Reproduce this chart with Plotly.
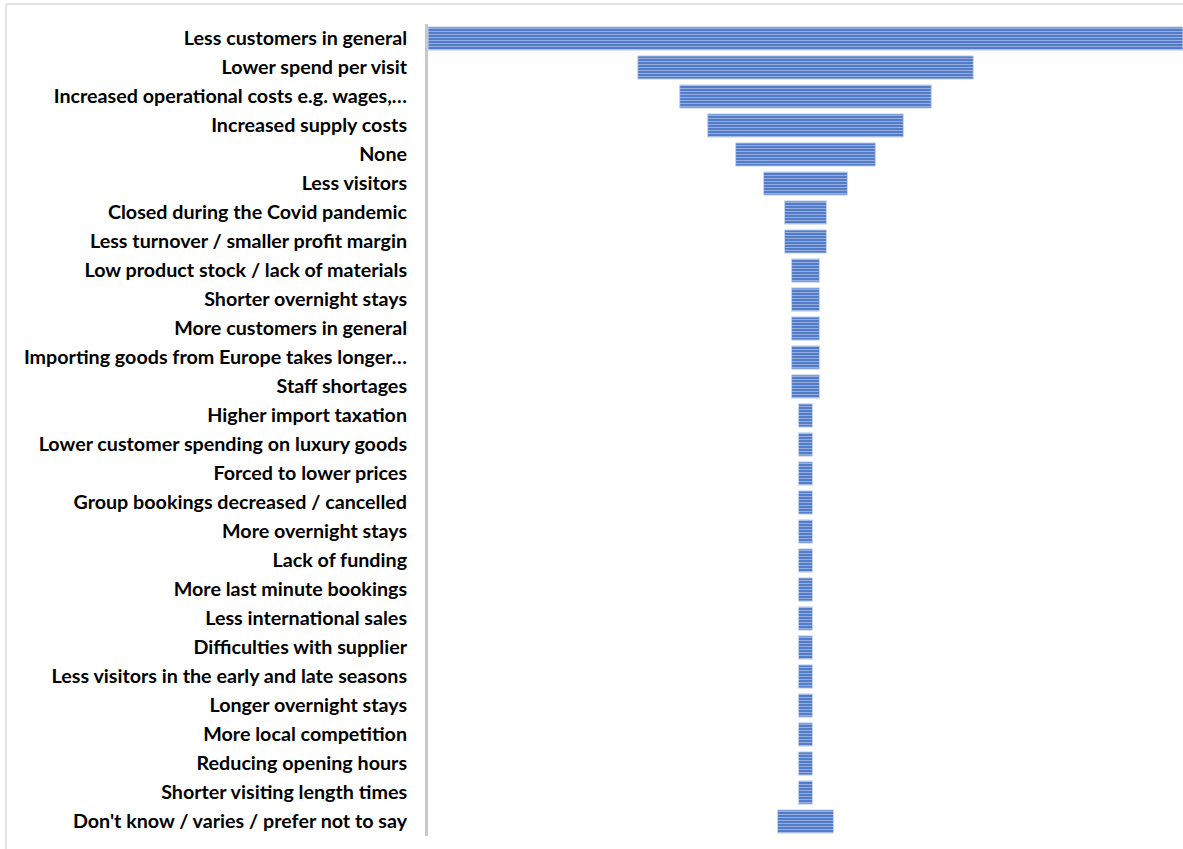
import plotly.graph_objects as go

# Reported business impacts (number of responses)
categories = [
    "Less customers in general",
    "Lower spend per visit",
    "Increased operational costs e.g. wages,…",
    "Increased supply costs",
    "None",
    "Less visitors",
    "Closed during the Covid pandemic",
    "Less turnover / smaller profit margin",
    "Low product stock / lack of materials",
    "Shorter overnight stays",
    "More customers in general",
    "Importing goods from Europe takes longer…",
    "Staff shortages",
    "Higher import taxation",
    "Lower customer spending on luxury goods",
    "Forced to lower prices",
    "Group bookings decreased / cancelled",
    "More overnight stays",
    "Lack of funding",
    "More last minute bookings",
    "Less international sales",
    "Difficulties with supplier",
    "Less visitors in the early and late seasons",
    "Longer overnight stays",
    "More local competition",
    "Reducing opening hours",
    "Shorter visiting length times",
    "Don't know / varies / prefer not to say",
]
responses = [54, 24, 18, 14, 10, 6, 3, 3, 2, 2, 2, 2, 2,
             1, 1, 1, 1, 1, 1, 1, 1, 1, 1, 1, 1, 1, 1, 4]

max_val = max(responses)

W, H = 1183, 849
L, R, T, B = 428, 0, 24, 13
plot_w, plot_h = W - L - R, H - T - B

fig = go.Figure(
    go.Bar(
        y=categories,
        x=responses,
        base=[-v / 2 for v in responses],  # centre each bar for the funnel look
        orientation="h",
        marker=dict(
            color="#4472C4",
            line=dict(color="#C7D4EE", width=1),
            pattern=dict(shape="-", size=3, solidity=0.45,
                         fgcolor="#95AEDF", bgcolor="#4472C4",
                         fillmode="replace"),
        ),
        hoverinfo="y+x",
    )
)

frame_x = (6 - L) / plot_w
frame_top = (H - B - 4) / plot_h

fig.update_layout(
    width=W,
    height=H,
    margin=dict(l=L, r=R, t=T, b=B),
    paper_bgcolor="white",
    plot_bgcolor="white",
    bargap=0.2,
    showlegend=False,
    font=dict(family="Lato, 'Open Sans', sans-serif", size=16, color="#000000"),
    xaxis=dict(
        range=[-max_val / 2, max_val / 2],
        visible=False,
        fixedrange=True,
    ),
    yaxis=dict(
        type="category",
        autorange="reversed",
        showline=True,
        linecolor="#C8C8C8",
        linewidth=3,
        showgrid=False,
        ticks="",
        ticklabelstandoff=14,
        tickfont=dict(family="Lato", size=19.7, color="#000000", weight="bold"),
        fixedrange=True,
    ),
    shapes=[
        # outer chart frame (top and left edges)
        dict(type="line", xref="paper", yref="paper",
             x0=frame_x, x1=1.0, y0=frame_top, y1=frame_top,
             line=dict(color="#D9D9D9", width=1.5)),
        dict(type="line", xref="paper", yref="paper",
             x0=frame_x, x1=frame_x, y0=-B / plot_h, y1=frame_top,
             line=dict(color="#D9D9D9", width=1.5)),
    ],
)

fig.write_html("out.html")
